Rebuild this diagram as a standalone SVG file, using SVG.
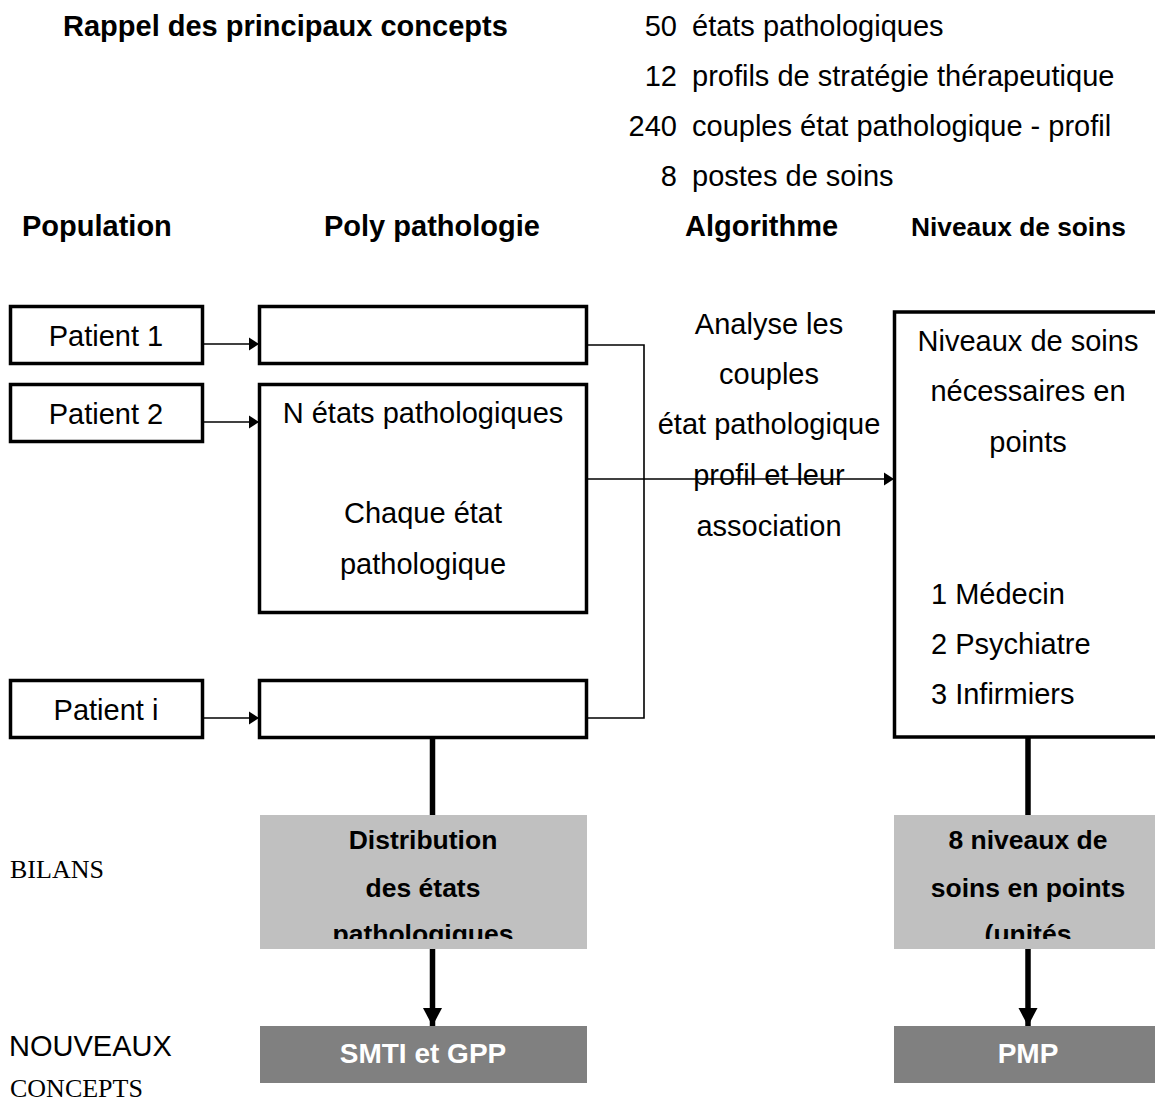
<svg xmlns="http://www.w3.org/2000/svg" width="1155" height="1104" viewBox="0 0 1155 1104">
<style>
text{font-family:"Liberation Sans",Arial,sans-serif;font-size:29px;fill:#000}
.b{font-weight:bold}
.c{text-anchor:middle}
.e{text-anchor:end}
.g{font-size:26.5px;font-weight:bold;text-anchor:middle}
.w{fill:#fff;font-weight:bold;text-anchor:middle;font-size:28px}
.s{font-family:"Liberation Serif","Times New Roman",serif;font-size:26px}
.box{fill:#fff;stroke:#000;stroke-width:3.5}
.thin{fill:none;stroke:#000;stroke-width:1.6}
.thick{fill:none;stroke:#000;stroke-width:5.5}
</style>
<defs>
<marker id="ah" markerUnits="userSpaceOnUse" markerWidth="11" markerHeight="14" refX="10" refY="7" orient="auto">
<path d="M0,0.5 L10,7 L0,13.5 Z" fill="#000"/>
</marker>
<marker id="ahb" markerUnits="userSpaceOnUse" markerWidth="20" markerHeight="20" refX="18" refY="9.5" orient="auto">
<path d="M0,0 L18,9.5 L0,19 Z" fill="#000"/>
</marker>
<clipPath id="clipL"><rect x="260" y="815" width="327" height="124"/></clipPath>
<clipPath id="clipR"><rect x="894" y="815" width="270" height="124"/></clipPath>
</defs>

<g id="header">
<text x="63" y="36" class="b">Rappel des principaux concepts</text>
<text x="677" y="36" class="e">50</text><text x="692" y="36">états pathologiques</text>
<text x="677" y="86" class="e">12</text><text x="692" y="86">profils de stratégie thérapeutique</text>
<text x="677" y="136" class="e">240</text><text x="692" y="136">couples état pathologique - profil</text>
<text x="677" y="186" class="e">8</text><text x="692" y="186">postes de soins</text>
<text x="22" y="236" class="b">Population</text>
<text x="324" y="236" class="b">Poly pathologie</text>
<text x="685" y="236" class="b">Algorithme</text>
<text x="911" y="236" class="b" style="font-size:26.3px">Niveaux de soins</text>
</g>

<g id="connectors">
<line class="thin" x1="203" y1="344" x2="259" y2="344" marker-end="url(#ah)"/>
<line class="thin" x1="203" y1="422" x2="259" y2="422" marker-end="url(#ah)"/>
<line class="thin" x1="203" y1="718" x2="259" y2="718" marker-end="url(#ah)"/>
<polyline class="thin" points="587,345 644,345 644,718 587,718"/>
<line class="thin" x1="587" y1="479" x2="894" y2="479" marker-end="url(#ah)"/>
<line class="thick" x1="432.5" y1="738" x2="432.5" y2="815"/>
<line class="thick" x1="432.5" y1="949" x2="432.5" y2="1026" marker-end="url(#ahb)"/>
<line class="thick" x1="1028" y1="737" x2="1028" y2="815"/>
<line class="thick" x1="1028" y1="949" x2="1028" y2="1026" marker-end="url(#ahb)"/>
</g>

<g id="patient1">
<rect class="box" x="10.5" y="306.5" width="192" height="57"/>
<text x="106" y="346" class="c">Patient 1</text>
</g>
<g id="patient2">
<rect class="box" x="10.5" y="384.5" width="192" height="57"/>
<text x="106" y="424" class="c">Patient 2</text>
</g>
<g id="patienti">
<rect class="box" x="10.5" y="680.5" width="192" height="57"/>
<text x="106" y="720" class="c">Patient i</text>
</g>

<g id="poly1">
<rect class="box" x="259.5" y="306.5" width="327" height="57"/>
</g>
<g id="poly2">
<rect class="box" x="259.5" y="384.5" width="327" height="228"/>
<text x="423" y="423" class="c">N états pathologiques</text>
<text x="423" y="523" class="c">Chaque état</text>
<text x="423" y="574" class="c">pathologique</text>
</g>
<g id="polyi">
<rect class="box" x="259.5" y="680.5" width="327" height="57"/>
</g>

<g id="algorithme">
<text x="769" y="334" class="c">Analyse les</text>
<text x="769" y="384" class="c">couples</text>
<text x="769" y="434" class="c">état pathologique</text>
<text x="769" y="485" class="c">profil et leur</text>
<text x="769" y="536" class="c">association</text>
</g>

<g id="niveaux">
<rect class="box" x="894.5" y="312" width="275" height="425"/>
<text x="1028" y="351" class="c">Niveaux de soins</text>
<text x="1028" y="401" class="c">nécessaires en</text>
<text x="1028" y="452" class="c">points</text>
<text x="931" y="604">1 Médecin</text>
<text x="931" y="654">2 Psychiatre</text>
<text x="931" y="704">3 Infirmiers</text>
</g>

<g id="labels">
<text x="10" y="878" class="s">BILANS</text>
<text x="9" y="1056">NOUVEAUX</text>
<text x="10" y="1097" class="s">CONCEPTS</text>
</g>

<g id="distribution">
<rect x="260" y="815" width="327" height="134" fill="#c0c0c0"/>
<g clip-path="url(#clipL)">
<text x="423" y="849" class="g">Distribution</text>
<text x="423" y="897" class="g">des états</text>
<text x="423" y="943" class="g">pathologiques</text>
</g>
</g>
<g id="smti">
<rect x="260" y="1026" width="327" height="57" fill="#808080"/>
<text x="423" y="1063" class="w">SMTI et GPP</text>
</g>

<g id="huitniveaux">
<rect x="894" y="815" width="270" height="134" fill="#c0c0c0"/>
<g clip-path="url(#clipR)">
<text x="1028" y="849" class="g">8 niveaux de</text>
<text x="1028" y="897" class="g">soins en points</text>
<text x="1028" y="943" class="g">(unités</text>
</g>
</g>
<g id="pmp">
<rect x="894" y="1026" width="270" height="57" fill="#808080"/>
<text x="1028" y="1063" class="w">PMP</text>
</g>
</svg>
